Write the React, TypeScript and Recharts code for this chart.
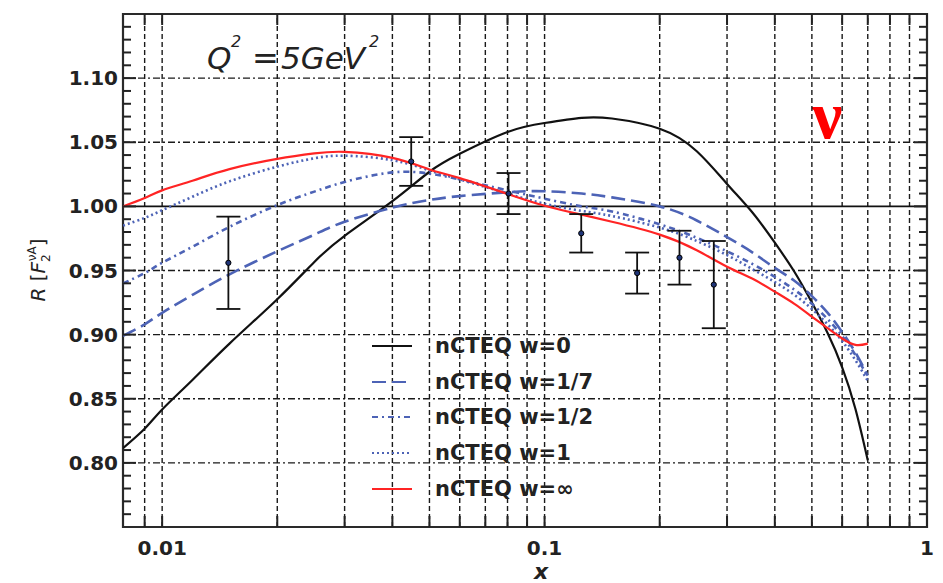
import React from 'react';
import {
  ComposedChart,
  Line,
  Scatter,
  ErrorBar,
  XAxis,
  YAxis,
  ReferenceLine,
  ReferenceArea,
  Legend,
} from 'recharts';

const xGrid = [
  0.0079, 0.009, 0.01, 0.012, 0.015, 0.02, 0.025, 0.03, 0.04, 0.05, 0.06, 0.08, 0.1, 0.125, 0.15,
  0.2, 0.25, 0.3, 0.35, 0.4, 0.45, 0.5, 0.55, 0.6, 0.65, 0.7,
];
const w0 = [
  0.8115, 0.8266, 0.8416, 0.8646, 0.893, 0.9276, 0.9567, 0.977, 1.004, 1.027, 1.041, 1.058, 1.065,
  1.069, 1.0685, 1.0605, 1.043, 1.0175, 0.995, 0.9717, 0.949, 0.925, 0.901, 0.8745, 0.842, 0.802,
];
const w17 = [
  0.899, 0.908, 0.917, 0.931, 0.947, 0.965, 0.978, 0.988, 0.999, 1.005, 1.008, 1.011, 1.0118, 1.01,
  1.007, 1.0, 0.989, 0.976, 0.964, 0.952, 0.942, 0.93, 0.917, 0.902, 0.886, 0.868,
];
const w12 = [
  0.94, 0.948, 0.956, 0.9685, 0.984, 1.001, 1.0115, 1.019, 1.0265, 1.0255, 1.021, 1.0125, 1.006,
  1.0, 0.996, 0.986, 0.9755, 0.965, 0.955, 0.945, 0.935, 0.924, 0.912, 0.899, 0.884, 0.867,
];
const w1 = [
  0.985, 0.991, 0.997, 1.0075, 1.0195, 1.031, 1.0375, 1.0395, 1.036, 1.028, 1.021, 1.01, 1.002,
  0.9965, 0.9925, 0.9835, 0.973, 0.962, 0.951, 0.941, 0.931, 0.92, 0.908, 0.895, 0.88, 0.864,
];
const wInf = [
  1.0, 1.0065, 1.0125, 1.02, 1.029, 1.037, 1.0413, 1.0425, 1.0378, 1.0288, 1.022, 1.0097, 1.0005,
  0.9935, 0.988, 0.978, 0.9658, 0.953, 0.9435, 0.9335, 0.924, 0.914, 0.905, 0.897, 0.892, 0.893,
];

// measured points
const dataX = [0.0149, 0.0448, 0.0805, 0.1247, 0.1746, 0.2253, 0.277];
const dataR = [0.956, 1.035, 1.01, 0.979, 0.948, 0.96, 0.939];
const dataErr = [0.036, 0.019, 0.016, 0.015, 0.016, 0.021, 0.034];

const xTicks = [
  0.009, 0.01, 0.02, 0.03, 0.04, 0.05, 0.06, 0.07, 0.08, 0.09, 0.1, 0.2, 0.3, 0.4, 0.5, 0.6, 0.7, 0.8,
  0.9, 1,
];
const xLabels = ['0.01', '0.1', '1'];
const yMajor = [0.8, 0.85, 0.9, 0.95, 1.0, 1.05, 1.1];
const yTicks = Array.from({ length: 39 }, (_, i) => +(0.76 + i * 0.01).toFixed(2));

const curves = xGrid.map((x, i) => ({
  x,
  w0: w0[i],
  w17: w17[i],
  w12: w12[i],
  w1: w1[i],
  wInf: wInf[i],
}));
const points = dataX.map((x, i) => ({ x, y: dataR[i], err: dataErr[i] }));

const BLUE = '#4d63b6';
const series = [
  { key: 'w0', name: 'nCTEQ w=0', color: '#111', dash: undefined, width: 2.2 },
  { key: 'w17', name: 'nCTEQ w=1/7', color: BLUE, dash: '14 6', width: 2.6 },
  { key: 'w12', name: 'nCTEQ w=1/2', color: BLUE, dash: '6 4 2 4', width: 2.6 },
  { key: 'w1', name: 'nCTEQ w=1', color: BLUE, dash: '2 3', width: 2.6 },
  { key: 'wInf', name: 'nCTEQ w=\u221e', color: '#ff2424', dash: undefined, width: 2.2 },
];

const W = 943;
const H = 583;
const LEFT = 123;
const TOP = 14;
const RIGHT = 16;
const BOTTOM = 56;
const PLOT_W = W - LEFT - RIGHT;
const PLOT_H = H - TOP - BOTTOM;
const INK = '#222';
const FONT = 'DejaVu Sans';

const XTick = (props: any) => {
  const { x, y, payload } = props;
  const v = payload.value;
  const label = xLabels.find((l) => Math.abs(parseFloat(l) - v) < 1e-9);
  return (
    <g>
      <line x1={x} x2={x} y1={y} y2={y - 11} stroke={INK} strokeWidth={2} />
      <line x1={x} x2={x} y1={y - PLOT_H} y2={y - PLOT_H + 11} stroke={INK} strokeWidth={2} />
      {label && (
        <text x={x} y={y + 28} textAnchor="middle" fontSize={20} fontWeight="bold" fill={INK} fontFamily={FONT}>
          {label}
        </text>
      )}
    </g>
  );
};

const YTick = (props: any) => {
  const { x, y, payload } = props;
  const v = payload.value;
  const major = Math.round(v * 100) % 5 === 0;
  const len = major ? 13 : 8;
  return (
    <g>
      <line x1={x} x2={x + len} y1={y} y2={y} stroke={INK} strokeWidth={2} />
      <line x1={x + PLOT_W} x2={x + PLOT_W - len} y1={y} y2={y} stroke={INK} strokeWidth={2} />
      {major && (
        <text x={x - 5} y={y + 7} textAnchor="end" fontSize={20} fontWeight="bold" fill={INK} fontFamily={FONT}>
          {v.toFixed(2)}
        </text>
      )}
    </g>
  );
};

const renderLegend = () => (
  <div style={{ fontFamily: FONT }}>
    {series.map((s) => (
      <div key={s.key} style={{ display: 'flex', alignItems: 'center', height: 35.7 }}>
        <svg width={40} height={10} style={{ marginRight: 23 }}>
          <line x1={0} x2={40} y1={5} y2={5} stroke={s.color} strokeWidth={2} strokeDasharray={s.dash} />
        </svg>
        <span style={{ fontSize: 21, fontWeight: 'bold', color: INK, whiteSpace: 'nowrap' }}>{s.name}</span>
      </div>
    ))}
  </div>
);

const Dot = (props: any) => (
  <circle cx={props.cx} cy={props.cy} r={2.6} fill="#1f3478" stroke="#000" strokeWidth={1} />
);

export default function App() {
  return (
    <div style={{ position: 'absolute', left: 0, top: 0, width: W, height: H, background: '#fff' }}>
      <ComposedChart
        width={W}
        height={H}
        data={curves}
        margin={{ top: TOP, right: RIGHT, bottom: 0, left: 0 }}
        style={{ fontFamily: FONT }}
      >
        <XAxis
          dataKey="x"
          type="number"
          scale="log"
          domain={[0.0079, 1]}
          allowDataOverflow
          ticks={xTicks}
          interval={0}
          tick={<XTick />}
          tickSize={0}
          tickMargin={0}
          tickLine={false}
          axisLine={false}
          height={BOTTOM}
        />
        <YAxis
          type="number"
          domain={[0.75, 1.15]}
          allowDataOverflow
          ticks={yTicks}
          interval={0}
          tick={<YTick />}
          tickSize={0}
          tickMargin={0}
          tickLine={false}
          axisLine={false}
          width={LEFT}
        />
        {xTicks
          .filter((t) => t < 1)
          .map((t) => (
            <ReferenceLine key={'vx' + t} x={t} stroke="#1a1a1a" strokeWidth={1.4} strokeDasharray="5 3" />
          ))}
        {yMajor
          .filter((t) => t !== 1)
          .map((t) => (
            <ReferenceLine key={'hy' + t} y={t} stroke="#1a1a1a" strokeWidth={1.4} strokeDasharray="7 3 2 3" />
          ))}
        <ReferenceLine y={1} stroke="#111" strokeWidth={1.6} />
        {series.map((s) => (
          <Line
            key={s.key}
            type="natural"
            dataKey={s.key}
            name={s.name}
            stroke={s.color}
            strokeWidth={s.width}
            strokeDasharray={s.dash}
            dot={false}
            activeDot={false}
            isAnimationActive={false}
          />
        ))}
        <Scatter data={points} dataKey="y" shape={<Dot />} isAnimationActive={false}>
          <ErrorBar dataKey="err" direction="y" width={12} stroke="#111" strokeWidth={1.8} isAnimationActive={false} />
        </Scatter>
        <ReferenceArea x1={0.0079} x2={1} y1={0.75} y2={1.15} fill="none" stroke="#2a2a2a" strokeWidth={2.2} />
        <Legend
          layout="vertical"
          align="center"
          verticalAlign="middle"
          content={renderLegend}
          wrapperStyle={{ left: 372, top: 328, width: 260 }}
        />
        <g fontFamily={FONT} fill={INK} fontStyle="italic">
          <text x={207} y={69} fontSize={31}>Q</text>
          <text x={231} y={47} fontSize={16}>2</text>
          <text x={252} y={69} fontSize={32}>=</text>
          <text x={281} y={69} fontSize={31}>5GeV</text>
          <text x={369} y={47} fontSize={16}>2</text>
        </g>
        <text x={812} y={138} fontSize={68} fontWeight="bold" fontFamily="Liberation Serif" fill="#ff0000">
          {'\u03bd'}
        </text>
        <text x={541} y={579} fontSize={22} fontStyle="italic" fontWeight="bold" textAnchor="middle" fill={INK} fontFamily={FONT}>
          x
        </text>
        <text transform="translate(45,270) rotate(-90)" textAnchor="middle" fontSize={20} fill={INK} fontFamily={FONT}>
          <tspan fontStyle="italic">R</tspan>
          <tspan> [</tspan>
          <tspan fontStyle="italic">F</tspan>
          <tspan fontSize={12} dy={5}>2</tspan>
          <tspan fontSize={12} dx={-7} dy={-14}>{'\u03bdA'}</tspan>
          <tspan dy={9}>]</tspan>
        </text>
      </ComposedChart>
    </div>
  );
}
